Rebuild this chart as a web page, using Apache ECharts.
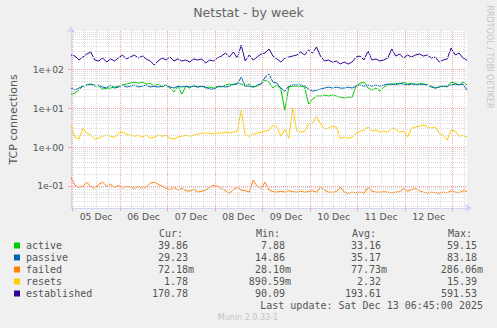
<!DOCTYPE html>
<html>
<head>
<meta charset="utf-8">
<script src="https://cdn.jsdelivr.net/npm/echarts@6/dist/echarts.min.js"></script>
<style>
  html, body { margin: 0; padding: 0; background: #f0f0f0; }
  #chart { width: 497px; height: 328px; }
</style>
</head>
<body>
<div id="chart"></div>
<script>
// Sample times: one reading every 2 hours over the week window (UTC).
const START = Date.UTC(2025, 11, 4, 23, 20);
const END = Date.UTC(2025, 11, 13, 7, 20);
const STEP = 2 * 3600 * 1000;

// TCP connection counts per sample
const active = [
  23, 24.5, 29.3, 37, 39.4, 41.8, 39.4, 37, 31, 33,
  33, 35, 37, 39.4, 41.8, 44, 47, 44, 47, 41.8,
  44, 37, 41.8, 35, 39.4, 33, 26, 37, 23, 37,
  33, 39.4, 35, 37, 33, 35, 33, 37, 35, 39.4,
  41.8, 39.4, 44, 41.8, 37, 41.8, 35, 37, 41.8, 53,
  47, 33, 39.4, 31, 8.8, 35, 37, 37, 37, 35,
  12.7, 17, 20.5, 20.5, 21.8, 20.5, 21.8, 20.5, 19.3, 18.2,
  19.3, 19.3, 37, 44, 47, 33, 29.3, 33, 27.5, 35,
  39.4, 41.8, 44, 41.8, 47, 41.8, 44, 39.4, 44, 41.8,
  39.4, 37, 33, 35, 37, 35, 47, 44, 39.4, 47,
  39.9
];
const passive = [
  33, 29.3, 33, 37, 39.4, 41.8, 37, 39.4, 35, 33,
  39.4, 33, 35, 39.4, 35, 37, 39.4, 35, 37, 39.4,
  35, 37, 35, 37, 39.4, 35, 33, 37, 35, 37,
  35, 37, 35, 37, 35, 31, 31, 35, 37, 35,
  37, 41.8, 41.8, 63, 37, 37, 35, 39.4, 41.8, 63,
  75, 47, 44, 33, 27.5, 37, 39.4, 39.4, 39.4, 37,
  31, 27.5, 29.3, 31, 33, 35, 33, 35, 33, 33,
  35, 33, 37, 39.4, 37, 39.4, 37, 39.4, 37, 39.4,
  41.8, 41.8, 39.4, 44, 41.8, 39.4, 41.8, 41.8, 39.4, 41.8,
  39.4, 35, 33, 35, 37, 37, 39.4, 41.8, 39.4, 41.8,
  29.2
];
const failed = [
  0.165, 0.104, 0.092, 0.098, 0.124, 0.095, 0.087, 0.110, 0.124, 0.098,
  0.110, 0.092, 0.104, 0.087, 0.098, 0.092, 0.087, 0.095, 0.088, 0.092,
  0.117, 0.124, 0.110, 0.098, 0.087, 0.080, 0.092, 0.078, 0.087, 0.075,
  0.073, 0.082, 0.069, 0.073, 0.078, 0.092, 0.104, 0.098, 0.087, 0.075,
  0.065, 0.080, 0.092, 0.078, 0.075, 0.069, 0.140, 0.098, 0.087, 0.124,
  0.078, 0.071, 0.069, 0.073, 0.069, 0.075, 0.071, 0.069, 0.073, 0.069,
  0.071, 0.075, 0.069, 0.092, 0.078, 0.069, 0.069, 0.071, 0.092, 0.069,
  0.065, 0.069, 0.067, 0.069, 0.065, 0.092, 0.073, 0.069, 0.069, 0.071,
  0.069, 0.067, 0.069, 0.071, 0.087, 0.073, 0.080, 0.087, 0.075, 0.069,
  0.065, 0.069, 0.067, 0.065, 0.069, 0.067, 0.075, 0.069, 0.067, 0.075,
  0.072
];
const resets = [
  3.5, 1.8, 1.6, 3.0, 2.28, 2.03, 1.6, 1.69, 1.9, 2.03,
  1.9, 1.8, 2.28, 2.42, 2.15, 2.03, 1.9, 2.03, 1.8, 2.03,
  1.69, 1.8, 2.03, 1.9, 2.03, 1.69, 1.6, 1.8, 1.9, 2.03,
  1.9, 2.03, 2.15, 2.28, 2.28, 2.28, 2.15, 2.28, 2.28, 2.42,
  2.28, 2.42, 2.56, 8.9, 2.03, 1.9, 2.15, 2.28, 2.42, 2.56,
  2.73, 3.67, 3.26, 1.9, 2.9, 1.69, 10, 2.6, 2.42, 2.56,
  3.9, 4.1, 6.2, 3.9, 2.9, 3.07, 3.45, 3.26, 1.69, 1.8,
  1.69, 1.8, 2.28, 2.56, 2.73, 3.26, 2.56, 2.73, 2.42, 2.56,
  2.42, 3.07, 2.9, 2.42, 2.56, 1.8, 3.07, 3.26, 3.45, 3.67,
  3.26, 3.07, 3.26, 2.28, 2.03, 1.51, 2.73, 2.56, 1.9, 2.03,
  1.78
];
const established = [
  234, 220, 174, 208, 248, 279, 174, 164, 196, 154,
  185, 164, 196, 234, 185, 208, 234, 196, 220, 185,
  164, 129, 164, 196, 174, 208, 164, 185, 164, 174,
  154, 185, 174, 185, 145, 174, 164, 196, 220, 263,
  208, 279, 196, 420, 164, 234, 174, 208, 248, 263,
  334, 220, 185, 154, 196, 208, 220, 234, 279, 234,
  314, 263, 376, 220, 164, 174, 154, 164, 137, 154,
  137, 154, 208, 220, 174, 296, 174, 185, 164, 174,
  196, 334, 220, 248, 196, 234, 208, 234, 248, 220,
  234, 196, 208, 154, 174, 185, 355, 234, 263, 196,
  171
];

const seriesNames = ['active', 'passive', 'failed', 'resets', 'established'];
const seriesColors = ['#00cc00', '#0066b3', '#ff8000', '#ffcc00', '#330099'];
const seriesValues = [active, passive, failed, resets, established];

// Summary table
const curVals = ['39.86', '29.23', '72.18m', '1.78', '170.78'];
const minVals = ['7.88', '14.86', '28.10m', '890.59m', '90.09'];
const avgVals = ['33.16', '35.17', '77.73m', '2.32', '193.61'];
const maxVals = ['59.15', '83.18', '286.06m', '15.39', '591.53'];

// Axis ticks
const yTickVals = [0.1, 1, 10, 100];
const yTickLabels = ['1e-01', '1e+00', '1e+01', '1e+02'];
const Y_MIN = 0.027, Y_MAX = 970;
const dayLabels = ['05 Dec', '06 Dec', '07 Dec', '08 Dec', '09 Dec', '10 Dec', '11 Dec', '12 Dec'];
const dayNoons = dayLabels.map((_, i) => Date.UTC(2025, 11, 5 + i, 12));

const HOUR = 3600 * 1000;
const FIRST_MIDNIGHT = Date.UTC(2025, 11, 5, 0);

const MAJOR = { color: '#f3a6a6', width: 1, type: [1, 1] };
const MINOR = { color: '#dadada', width: 1, type: [1, 1] };

// Background grid: minor lines at 2..9 per decade and every 6 hours,
// major (red) lines at each decade and at each midnight.
const gridLines = [];
for (let d = -2; d <= 2; d++) {
  for (let k = 2; k <= 9; k++) {
    const v = k * Math.pow(10, d);
    if (v > Y_MIN && v < Y_MAX) gridLines.push({ yAxis: v, lineStyle: MINOR });
  }
}
const midnights = [];
for (let t = FIRST_MIDNIGHT - 6 * HOUR; t < END; t += 6 * HOUR) {
  if (t <= START) continue;
  const isMidnight = ((t - FIRST_MIDNIGHT) % (24 * HOUR)) === 0;
  if (isMidnight) midnights.push(t);
  gridLines.push({ xAxis: t, lineStyle: isMidnight ? MAJOR : MINOR });
}
yTickVals.forEach(v => gridLines.push({ yAxis: v, lineStyle: MAJOR }));

const lineSeries = seriesNames.map((name, s) => ({
  name,
  type: 'line',
  data: seriesValues[s].map((v, i) => [START + i * STEP, v]),
  showSymbol: false,
  symbol: 'none',
  z: 3,
  color: seriesColors[s],
  lineStyle: { width: 1, color: seriesColors[s] },
  animation: false
}));

const gridSeries = {
  name: 'grid',
  type: 'line',
  data: [],
  z: 1,
  silent: true,
  animation: false,
  markLine: {
    silent: true,
    animation: false,
    symbol: ['none', 'none'],
    label: { show: false },
    emphasis: { disabled: true },
    data: gridLines
  }
};

const MONO = '"DejaVu Sans Mono", monospace';
const SANS = '"DejaVu Sans", sans-serif';
const TXT = '#555555';

// Summary table text
const colRight = [194, 291, 387, 483];
const colHeads = [['Cur:', 159], ['Min:', 256], ['Avg:', 352], ['Max:', 448]];
const table = [curVals, minVals, avgVals, maxVals];
const graphics = [];
colHeads.forEach(([txt, x]) => graphics.push({
  type: 'text', x, y: 233.5,
  style: { text: txt, font: '10px ' + MONO, fill: TXT, textAlign: 'left', textVerticalAlign: 'middle' }
}));
table.forEach((col, c) => col.forEach((val, r) => graphics.push({
  type: 'text',
  x: colRight[c] - (val.endsWith('m') ? 0 : 6),
  y: 245.5 + 12 * r,
  style: { text: val, font: '10px ' + MONO, fill: TXT, textAlign: 'right', textVerticalAlign: 'middle' }
})));
graphics.push({
  type: 'text', x: 483, y: 305.5,
  style: { text: 'Last update: Sat Dec 13 06:45:00 2025', font: '10px ' + MONO, fill: TXT, textAlign: 'right', textVerticalAlign: 'middle' }
});
graphics.push({
  type: 'text', x: 248, y: 317,
  style: { text: 'Munin 2.0.33-1', font: '8px ' + SANS, fill: '#c4c4c4', textAlign: 'center', textVerticalAlign: 'middle' }
});
graphics.push({
  type: 'text', x: 489, y: 57, rotation: -Math.PI / 2,
  style: { text: 'RRDTOOL / TOBI OETIKER', font: '8px ' + SANS, fill: '#c4c4c4', textAlign: 'center', textVerticalAlign: 'middle' }
});

const chart = echarts.init(document.getElementById('chart'), null, { renderer: 'svg' });
chart.setOption({
  backgroundColor: '#f0f0f0',
  animation: false,
  title: {
    text: 'Netstat - by week',
    left: 'center',
    top: 6,
    padding: 0,
    textStyle: { fontFamily: SANS, fontSize: 12.5, fontWeight: 'normal', color: '#666666' }
  },
  grid: { left: 67, right: 30, top: 31, bottom: 120, backgroundColor: '#ffffff', show: true, borderWidth: 0 },
  legend: {
    data: seriesNames,
    orient: 'vertical',
    left: 14,
    top: 239.5,
    padding: 0,
    itemGap: 0,
    itemWidth: 6,
    itemHeight: 6,
    icon: 'rect',
    selectedMode: false,
    textStyle: { fontFamily: MONO, fontSize: 10, color: TXT, lineHeight: 12, padding: [0, 0, 0, 1] }
  },
  xAxis: {
    type: 'value',
    min: START,
    max: END,
    splitLine: { show: false },
    axisLine: { lineStyle: { color: '#cfd6f8' }, symbol: ['none', 'arrow'], symbolSize: [7, 7], symbolOffset: [0, 5] },
    axisTick: { show: true, customValues: midnights, length: 3, lineStyle: { color: '#f3a6a6' } },
    axisLabel: {
      customValues: dayNoons,
      formatter: v => dayLabels[dayNoons.indexOf(v)] || '',
      margin: 4,
      fontFamily: SANS, fontSize: 9.3, color: TXT
    }
  },
  yAxis: {
    type: 'log',
    logBase: 10,
    min: Y_MIN,
    max: Y_MAX,
    name: 'TCP connections',
    nameLocation: 'middle',
    nameGap: 52,
    nameTextStyle: { fontFamily: SANS, fontSize: 11, color: TXT },
    splitLine: { show: false },
    axisLine: { show: true, lineStyle: { color: '#cfd6f8' }, symbol: ['none', 'arrow'], symbolSize: [7, 7], symbolOffset: [0, 5] },
    axisTick: { show: true, customValues: yTickVals, length: 3, lineStyle: { color: '#f3a6a6' } },
    axisLabel: {
      customValues: yTickVals,
      formatter: v => yTickLabels[yTickVals.findIndex(t => Math.abs(t - v) < 1e-9 * t)] || '',
      margin: 7,
      fontFamily: SANS, fontSize: 9.3, color: TXT
    }
  },
  series: [gridSeries].concat(lineSeries),
  graphic: graphics
});
</script>
</body>
</html>
